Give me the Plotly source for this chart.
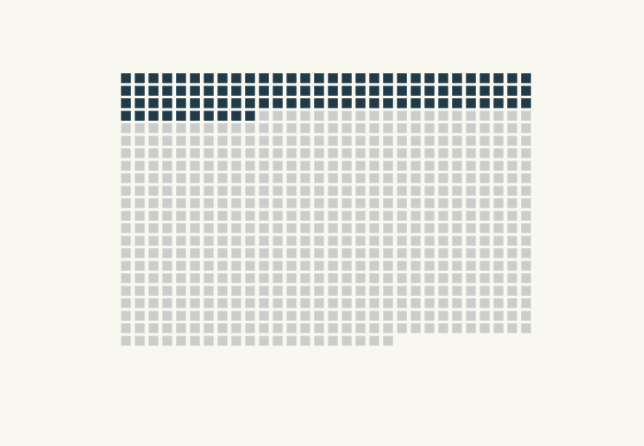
import plotly.graph_objects as go

# Waffle data
categories = ["Share", "Rest"]
values = [100, 550]
colors = ["#213a47", "#cccccc"]
border_colors = ["#42596a", "#d8d8d2"]
n_cols = 30

fig = go.Figure()
idx = 0
for cat, val, col, bcol in zip(categories, values, colors, border_colors):
    xs, ys = [], []
    for k in range(idx, idx + val):
        xs.append(k % n_cols)
        ys.append(k // n_cols)
    idx += val
    fig.add_trace(go.Scatter(
        x=xs, y=ys, mode="markers", name=cat,
        marker=dict(symbol="square", size=9.2, color=col,
                    line=dict(width=0.9, color=bcol)),
        hoverinfo="name",
    ))

n_rows = (sum(values) + n_cols - 1) // n_cols

fig.update_layout(
    width=644, height=446,
    margin=dict(l=119, r=111, t=72, b=99),
    paper_bgcolor="#f8f7f0", plot_bgcolor="#f8f7f0",
    showlegend=False,
    xaxis=dict(range=[-0.5, n_cols - 0.5], visible=False, fixedrange=True),
    yaxis=dict(range=[n_rows - 0.5, -0.5], visible=False, fixedrange=True),
)

fig.write_html(
    "out.html",
    config={"displayModeBar": False},
    post_script="document.body.style.margin='0';document.body.style.background='#f8f7f0';",
)
